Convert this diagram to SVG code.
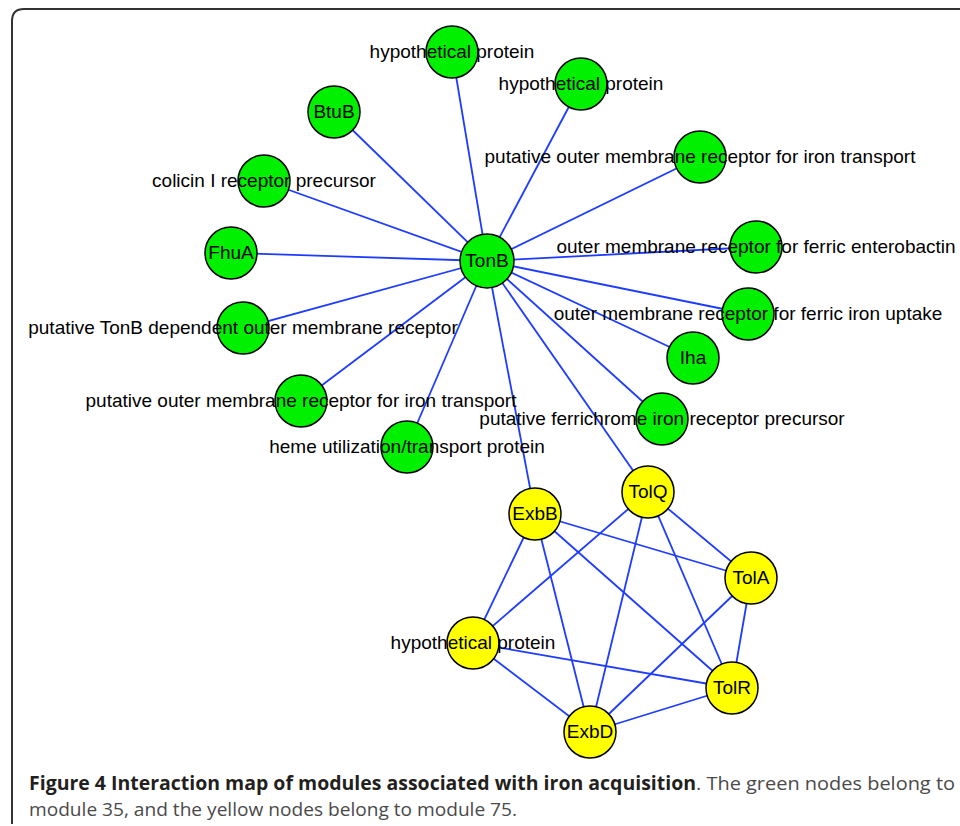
<svg xmlns="http://www.w3.org/2000/svg" width="960" height="826" viewBox="0 0 960 826">
<style>
.e{stroke:#1e3cff;stroke-width:1.8;fill:none}
.g{fill:#00f000;stroke:#000;stroke-width:1.5}
.y{fill:#ffff00;stroke:#000;stroke-width:1.5}
.t{font-family:"Liberation Sans",Arial,sans-serif;font-size:19px;fill:#000;text-anchor:middle}
.cb{font-family:"Open Sans","DejaVu Sans",sans-serif;font-weight:bold;font-size:19px;fill:#231f20}
.cr{font-family:"Open Sans","DejaVu Sans",sans-serif;font-size:19px;fill:#4a4a4a}
</style>
<rect width="960" height="826" fill="#fff"/>
<path d="M12,824 V21 Q12,9 24,9 H960" fill="none" stroke="#333" stroke-width="2"/>
<g id="connectors">
<line class="e" x1="487" y1="261" x2="452" y2="52"/>
<line class="e" x1="487" y1="261" x2="581" y2="84"/>
<line class="e" x1="487" y1="261" x2="334" y2="112"/>
<line class="e" x1="487" y1="261" x2="264" y2="181"/>
<line class="e" x1="487" y1="261" x2="231" y2="253"/>
<line class="e" x1="487" y1="261" x2="243" y2="328"/>
<line class="e" x1="487" y1="261" x2="301" y2="401"/>
<line class="e" x1="487" y1="261" x2="407" y2="447"/>
<line class="e" x1="487" y1="261" x2="700" y2="157"/>
<line class="e" x1="487" y1="261" x2="756" y2="247"/>
<line class="e" x1="487" y1="261" x2="748" y2="314"/>
<line class="e" x1="487" y1="261" x2="693" y2="358"/>
<line class="e" x1="487" y1="261" x2="662" y2="419"/>
<line class="e" x1="487" y1="261" x2="648" y2="492"/>
<line class="e" x1="487" y1="261" x2="535" y2="514"/>
<line class="e" x1="535" y1="514" x2="751" y2="578"/>
<line class="e" x1="535" y1="514" x2="732" y2="688"/>
<line class="e" x1="535" y1="514" x2="590" y2="732"/>
<line class="e" x1="535" y1="514" x2="473" y2="643"/>
<line class="e" x1="648" y1="492" x2="473" y2="643"/>
<line class="e" x1="648" y1="492" x2="590" y2="732"/>
<line class="e" x1="648" y1="492" x2="732" y2="688"/>
<line class="e" x1="648" y1="492" x2="751" y2="578"/>
<line class="e" x1="751" y1="578" x2="732" y2="688"/>
<line class="e" x1="751" y1="578" x2="590" y2="732"/>
<line class="e" x1="473" y1="643" x2="732" y2="688"/>
<line class="e" x1="473" y1="643" x2="590" y2="732"/>
<line class="e" x1="590" y1="732" x2="732" y2="688"/>
</g>
<g id="n-tonb"><circle class="g" cx="487" cy="261" r="27"/><text class="t" x="487" y="267">TonB</text></g>
<g id="n-hyp1"><circle class="g" cx="452" cy="52" r="26"/><text class="t" x="452" y="58">hypothetical protein</text></g>
<g id="n-hyp2"><circle class="g" cx="581" cy="84" r="26"/><text class="t" x="581" y="90">hypothetical protein</text></g>
<g id="n-btub"><circle class="g" cx="334" cy="112" r="26"/><text class="t" x="334" y="118">BtuB</text></g>
<g id="n-colicin"><circle class="g" cx="264" cy="181" r="26"/><text class="t" x="264" y="187">colicin I receptor precursor</text></g>
<g id="n-fhua"><circle class="g" cx="231" cy="253" r="26"/><text class="t" x="231" y="259">FhuA</text></g>
<g id="n-puttonb"><circle class="g" cx="243" cy="328" r="26"/><text class="t" x="243" y="334">putative TonB dependent outer membrane receptor</text></g>
<g id="n-putomr-l"><circle class="g" cx="301" cy="401" r="26"/><text class="t" x="301" y="407">putative outer membrane receptor for iron transport</text></g>
<g id="n-heme"><circle class="g" cx="407" cy="447" r="26"/><text class="t" x="407" y="453">heme utilization/transport protein</text></g>
<g id="n-putomr-t"><circle class="g" cx="700" cy="157" r="26"/><text class="t" x="700" y="163">putative outer membrane receptor for iron transport</text></g>
<g id="n-enterobactin"><circle class="g" cx="756" cy="247" r="26"/><text class="t" x="756" y="253">outer membrane receptor for ferric enterobactin</text></g>
<g id="n-ferric-uptake"><circle class="g" cx="748" cy="314" r="26"/><text class="t" x="748" y="320">outer membrane receptor for ferric iron uptake</text></g>
<g id="n-iha"><circle class="g" cx="693" cy="358" r="26"/><text class="t" x="693" y="364">Iha</text></g>
<g id="n-ferrichrome"><circle class="g" cx="662" cy="419" r="26"/><text class="t" x="662" y="425">putative ferrichrome iron receptor precursor</text></g>
<g id="n-tolq"><circle class="y" cx="648" cy="492" r="26"/><text class="t" x="648" y="498">TolQ</text></g>
<g id="n-exbb"><circle class="y" cx="535" cy="514" r="26"/><text class="t" x="535" y="520">ExbB</text></g>
<g id="n-tola"><circle class="y" cx="751" cy="578" r="26"/><text class="t" x="751" y="584">TolA</text></g>
<g id="n-hyp-y"><circle class="y" cx="473" cy="643" r="26"/><text class="t" x="473" y="649">hypothetical protein</text></g>
<g id="n-tolr"><circle class="y" cx="732" cy="688" r="26"/><text class="t" x="732" y="694">TolR</text></g>
<g id="n-exbd"><circle class="y" cx="590" cy="732" r="26"/><text class="t" x="590" y="738">ExbD</text></g>
<g id="caption">
<text class="cb" x="29" y="790" textLength="667" lengthAdjust="spacingAndGlyphs">Figure 4 Interaction map of modules associated with iron acquisition</text>
<text class="cr" x="696" y="790" textLength="259" lengthAdjust="spacingAndGlyphs">. The green nodes belong to</text>
<text class="cr" x="29" y="816" textLength="488" lengthAdjust="spacingAndGlyphs">module 35, and the yellow nodes belong to module 75.</text>
</g>
</svg>
